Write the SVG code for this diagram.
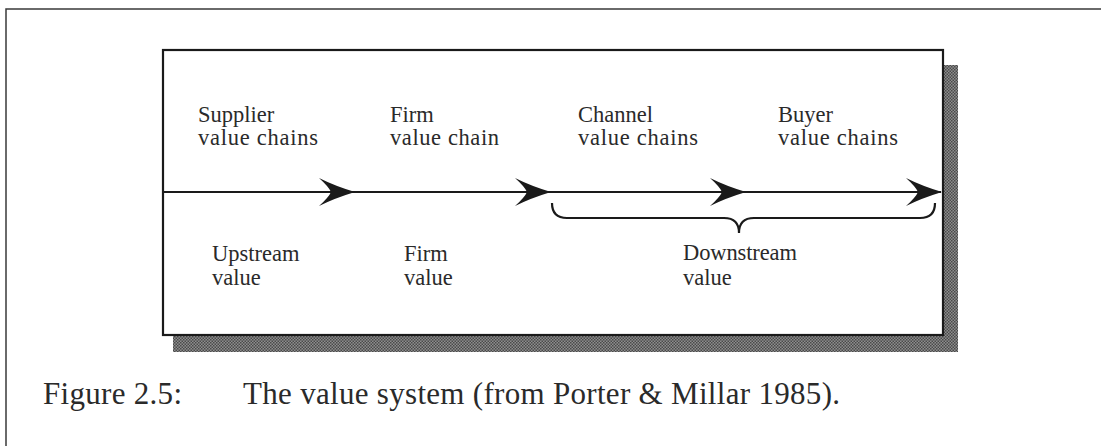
<svg xmlns="http://www.w3.org/2000/svg" width="1101" height="446" viewBox="0 0 1101 446">
<style>
.lbl{font-family:"Liberation Serif","Times New Roman",serif;font-size:22.5px;fill:#2a2a2a}
.cap{font-family:"Liberation Serif","Times New Roman",serif;font-size:31px;fill:#2a2a2a}
.ln{stroke:#1a1a1a;stroke-width:2.2;fill:none}
.head{fill:#1a1a1a}
</style>
<defs>
<pattern id="dots" width="3" height="3" patternUnits="userSpaceOnUse">
<rect width="3" height="3" fill="#8e8e8e"/>
<rect width="1.5" height="1.5" fill="#4a4a4a"/>
<rect x="1.5" y="1.5" width="1.5" height="1.5" fill="#4a4a4a"/>
</pattern>
<path id="ah" d="M0,0 Q-20,-6 -36,-14 Q-26,-5 -24,0 Q-26,5 -36,14 Q-20,6 0,0 Z"/>
</defs>
<rect width="1101" height="446" fill="#ffffff"/>
<path d="M6,446 L6,9 L1101,9" fill="none" stroke="#3a3a3a" stroke-width="1.5"/>
<g id="frame">
<rect x="173" y="65" width="785" height="287" fill="url(#dots)"/>
<rect x="163" y="50" width="780" height="285" fill="#ffffff" stroke="#1a1a1a" stroke-width="2.2"/>
</g>
<g id="connectors">
<line class="ln" x1="163" y1="192" x2="941" y2="192"/>
<use href="#ah" class="head" transform="translate(355,192)"/>
<use href="#ah" class="head" transform="translate(551,192)"/>
<use href="#ah" class="head" transform="translate(746,192)"/>
<use href="#ah" class="head" transform="translate(942,192)"/>
<path class="ln" d="M552,203 Q552,218 567,218 L724,218 Q739,218 739,233 Q739,218 754,218 L920,218 Q935,218 935,203"/>
</g>
<g id="supplier"><text class="lbl" x="198" y="122">Supplier</text><text class="lbl" x="198" y="145" textLength="120">value chains</text></g>
<g id="firm-chain"><text class="lbl" x="390" y="122">Firm</text><text class="lbl" x="390" y="145" textLength="109">value chain</text></g>
<g id="channel"><text class="lbl" x="578" y="122">Channel</text><text class="lbl" x="578" y="145" textLength="120">value chains</text></g>
<g id="buyer"><text class="lbl" x="778" y="122">Buyer</text><text class="lbl" x="778" y="145" textLength="120">value chains</text></g>
<g id="upstream"><text class="lbl" x="212" y="261">Upstream</text><text class="lbl" x="212" y="285">value</text></g>
<g id="firm-value"><text class="lbl" x="404" y="261">Firm</text><text class="lbl" x="404" y="285">value</text></g>
<g id="downstream"><text class="lbl" x="683" y="260" textLength="114">Downstream</text><text class="lbl" x="683" y="285">value</text></g>
<g id="caption"><text class="cap" x="43" y="404" textLength="139">Figure 2.5:</text><text class="cap" x="243" y="404" textLength="597">The value system (from Porter &amp; Millar 1985).</text></g>
</svg>
